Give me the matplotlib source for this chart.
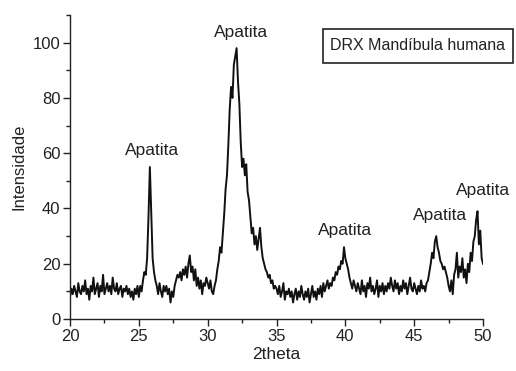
import numpy as np
import matplotlib
matplotlib.use("Agg")
import matplotlib.pyplot as plt
from matplotlib.patches import Rectangle
from matplotlib.ticker import MultipleLocator

plt.rcParams["font.family"] = ["Liberation Sans", "DejaVu Sans"]

# ------------------------------------------- DATA ------------------------------------------- #

# 2theta from 20 to 50 in 0.1 degree steps, intensities
two_theta = np.round(np.arange(20.0, 50.01, 0.1), 1)

intensity = [
    8, 11, 9, 12, 10, 8, 13, 10, 9, 12,          # 20
    10, 14, 9, 11, 7, 12, 10, 15, 9, 11,         # 21
    13, 8, 12, 10, 16, 9, 11, 13, 10, 12,        # 22
    9, 15, 11, 10, 13, 9, 11, 12, 8, 11,         # 23
    10, 12, 9, 11, 8, 10, 7, 11, 9, 12,          # 24
    8, 12, 10, 14, 17, 16, 22, 37, 55, 38,       # 25
    22, 17, 14, 12, 9, 13, 10, 8, 12, 10,        # 26
    12, 9, 11, 6, 10, 8, 12, 14, 16, 15,         # 27
    17, 14, 18, 16, 19, 15, 20, 23, 17, 19,      # 28
    14, 18, 12, 15, 11, 14, 9, 13, 12, 15,       # 29
    13, 11, 14, 10, 9, 12, 14, 18, 21, 26,       # 30
    24, 31, 38, 47, 52, 63, 76, 84, 80, 92,      # 31
    95, 98, 86, 78, 64, 55, 58, 52, 56, 46,      # 32
    43, 37, 31, 33, 27, 30, 25, 29, 33, 26,      # 33
    22, 20, 18, 17, 15, 16, 13, 14, 11, 12,      # 34
    11, 9, 12, 8, 10, 13, 7, 10, 9, 11,          # 35
    8, 10, 6, 9, 11, 7, 10, 8, 12, 9,            # 36
    7, 10, 8, 11, 6, 9, 12, 8, 10, 7,            # 37
    11, 9, 12, 8, 13, 10, 12, 14, 11, 13,        # 38
    12, 15, 14, 17, 16, 19, 18, 21, 20, 26,      # 39
    22, 20, 18, 15, 13, 11, 14, 12, 10, 13,      # 40
    11, 9, 14, 10, 12, 8, 13, 11, 15, 10,        # 41
    12, 9, 11, 14, 8, 12, 10, 13, 9, 12,         # 42
    10, 13, 11, 15, 12, 10, 14, 11, 13, 9,       # 43
    12, 10, 14, 11, 13, 9, 12, 15, 11, 10,       # 44
    13, 11, 9, 12, 10, 14, 11, 12, 10, 13,       # 45
    14, 17, 20, 24, 22, 28, 30, 26, 24, 21,      # 46
    20, 18, 19, 17, 15, 12, 10, 14, 9, 16,       # 47
    18, 24, 15, 19, 17, 22, 15, 18, 13, 20,      # 48
    17, 24, 21, 28, 30, 36, 39, 27, 32, 22,      # 49
    20,                                          # 50
]

# peak labels: (2theta, intensity) of the text centre
peak_labels = ["Apatita", "Apatita", "Apatita", "Apatita", "Apatita"]
label_x = [25.95, 32.45, 40.0, 46.9, 50.0]
label_y = [61, 103.5, 32, 37.5, 46.5]

x_ticks = [20, 25, 30, 35, 40, 45, 50]
y_ticks = [0, 20, 40, 60, 80, 100]

# ------------------------------------------------------------------------------------------- #

fig = plt.figure(figsize=(5.16, 3.71), dpi=100)
ax = fig.add_axes([0.1357, 0.140, 0.8004, 0.8196])

ax.plot(two_theta, intensity, color="#111111", linewidth=1.4)

ax.set_xlim(20, 50)
ax.set_ylim(0, 110)
ax.set_xticks(x_ticks)
ax.set_yticks(y_ticks)
ax.xaxis.set_minor_locator(MultipleLocator(2.5))
ax.yaxis.set_minor_locator(MultipleLocator(10))

for side in ("top", "right"):
    ax.spines[side].set_visible(False)
for side in ("left", "bottom"):
    ax.spines[side].set_linewidth(1.0)
    ax.spines[side].set_color("#222222")

ax.tick_params(which="major", direction="out", length=5, width=1.0,
               labelsize=12, colors="#222222", pad=2)
ax.tick_params(which="minor", direction="out", length=3, width=1.0,
               colors="#222222")

ax.set_xlabel("2theta", fontsize=12.5, color="#222222", labelpad=2)
ax.set_ylabel("Intensidade", fontsize=12, color="#222222", labelpad=4)

for txt, px, py in zip(peak_labels, label_x, label_y):
    ax.text(px, py, txt, ha="center", va="center", fontsize=12.5,
            color="#222222", clip_on=False)

# legend-like title box
fig.patches.append(Rectangle((323 / 516, 1 - 63 / 371), 190 / 516, 34 / 371,
                             transform=fig.transFigure, fill=False,
                             edgecolor="#222222", linewidth=1.2))
fig.text(418 / 516, 1 - 46 / 371, "DRX Mandíbula humana", ha="center",
         va="center", fontsize=11.5, color="#222222")

fig.savefig("out.png", dpi=100)
